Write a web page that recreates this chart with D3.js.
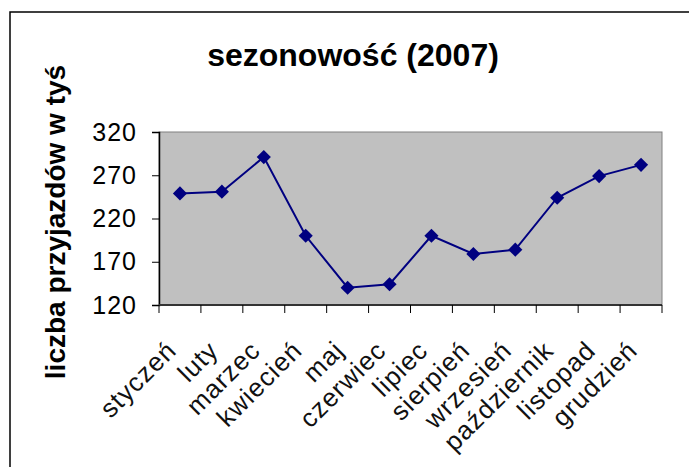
<!DOCTYPE html>
<html>
<head>
<meta charset="utf-8">
<script src="https://cdn.jsdelivr.net/npm/d3@7"></script>
<style>
  body { margin: 0; background: #fff; }
  svg { display: block; font-family: "Liberation Sans", Arial, sans-serif; }
</style>
</head>
<body>
<svg class="chart"></svg>
<script>
var months = ["styczeń", "luty", "marzec", "kwiecień", "maj", "czerwiec",
              "lipiec", "sierpień", "wrzesień", "październik", "listopad", "grudzień"];
var arrivals = [249, 251, 291, 200, 140, 144, 200, 179, 184, 244, 269, 282];
var yTicks = [120, 170, 220, 270, 320];
var chartTitle = "sezonowość (2007)";
var yTitle = "liczba przyjazdów w tyś";

var width = 689, height = 467;
var plot = {left: 159, right: 662, top: 132, bottom: 305};

var svg = d3.select(".chart").attr("width", width).attr("height", height);

// outer chart frame (runs off the right and bottom edge)
svg.append("rect")
  .attr("x", 10).attr("y", 12)
  .attr("width", 700).attr("height", 480)
  .attr("fill", "#fff")
  .attr("stroke", "#000")
  .attr("stroke-width", 1.5);

var x = d3.scaleBand().domain(months).range([plot.left, plot.right]);
var y = d3.scaleLinear().domain([120, 320]).range([plot.bottom, plot.top]);

// grey plot area
svg.append("rect")
  .attr("x", plot.left).attr("y", plot.top)
  .attr("width", plot.right - plot.left)
  .attr("height", plot.bottom - plot.top)
  .attr("fill", "#c0c0c0")
  .attr("stroke", "#808080")
  .attr("stroke-width", 1);

// y axis
var yAxis = svg.append("g")
  .attr("transform", "translate(" + plot.left + ",0)")
  .call(d3.axisLeft(y).tickValues(yTicks).tickSize(7).tickPadding(15).tickFormat(d3.format("d")));
yAxis.select(".domain").attr("stroke", "#000").attr("stroke-width", 1.5);
yAxis.selectAll(".tick line").attr("stroke", "#000").attr("stroke-width", 1);
yAxis.selectAll(".tick text")
  .attr("font-size", 25)
  .attr("letter-spacing", 1)
  .attr("fill", "#000");

// x axis: ticks sit on the band edges
var xAxis = svg.append("g")
  .attr("transform", "translate(0," + plot.bottom + ")");
xAxis.append("line")
  .attr("x1", plot.left).attr("x2", plot.right)
  .attr("stroke", "#333").attr("stroke-width", 2);
var edges = months.map(function(m) { return x(m); }).concat([x.range()[1]]);
xAxis.selectAll(".edge")
  .data(edges)
  .enter().append("line")
  .attr("class", "edge")
  .attr("x1", function(d) { return d; })
  .attr("x2", function(d) { return d; })
  .attr("y1", 0).attr("y2", 8)
  .attr("stroke", "#000");

// rotated month labels
svg.selectAll(".month")
  .data(months)
  .enter().append("text")
  .attr("class", "month")
  .attr("transform", function(d) {
    return "translate(" + (x(d) + x.bandwidth() / 2 - 2) + ",352) rotate(-45)";
  })
  .attr("text-anchor", "end")
  .attr("font-size", 26)
  .attr("letter-spacing", 1)
  .attr("fill", "#111")
  .text(function(d) { return d; });

// line + diamond markers
var line = d3.line()
  .x(function(d, i) { return x(months[i]) + x.bandwidth() / 2; })
  .y(function(d) { return y(d); });

svg.append("path")
  .datum(arrivals)
  .attr("d", line)
  .attr("fill", "none")
  .attr("stroke", "#000080")
  .attr("stroke-width", 2);

svg.selectAll(".marker")
  .data(arrivals)
  .enter().append("path")
  .attr("class", "marker")
  .attr("d", d3.symbol(d3.symbolSquare, 100))
  .attr("transform", function(d, i) {
    return "translate(" + (x(months[i]) + x.bandwidth() / 2) + "," + y(d) + ") rotate(45)";
  })
  .attr("fill", "#000080");

// titles
svg.append("text")
  .attr("x", 353).attr("y", 66)
  .attr("text-anchor", "middle")
  .attr("font-size", 32)
  .attr("font-weight", "bold")
  .text(chartTitle);

svg.append("text")
  .attr("transform", "translate(65,222) rotate(-90)")
  .attr("text-anchor", "middle")
  .attr("font-size", 28)
  .attr("font-weight", "bold")
  .text(yTitle);
</script>
</body>
</html>
